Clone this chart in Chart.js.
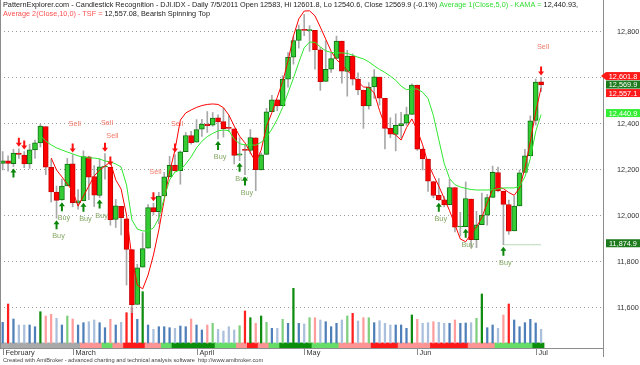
<!DOCTYPE html>
<html>
<head>
<meta charset="utf-8">
<title>DJI.IDX candlestick recognition</title>
<script src="https://cdn.jsdelivr.net/npm/chart.js@4.4.1/dist/chart.umd.min.js"></script>
<style>
  html, body { margin: 0; padding: 0; background: #ffffff; }
  #chart { display: block; }
</style>
</head>
<body>
<canvas id="chart" width="640" height="365"></canvas>
<script>
// DJI.IDX daily bars, 2/9/2011 - 7/5/2011
const dates = [
  '2/9','2/10','2/11','2/14','2/15','2/16','2/17','2/18','2/22','2/23','2/24','2/25','2/28',
  '3/1','3/2','3/3','3/4','3/7','3/8','3/9','3/10','3/11','3/14','3/15','3/16','3/17','3/18',
  '3/21','3/22','3/23','3/24','3/25','3/28','3/29','3/30','3/31',
  '4/1','4/4','4/5','4/6','4/7','4/8','4/11','4/12','4/13','4/14','4/15','4/18','4/19','4/20',
  '4/21','4/25','4/26','4/27','4/28','4/29',
  '5/2','5/3','5/4','5/5','5/6','5/9','5/10','5/11','5/12','5/13','5/16','5/17','5/18','5/19',
  '5/20','5/23','5/24','5/25','5/26','5/27','5/31',
  '6/1','6/2','6/3','6/6','6/7','6/8','6/9','6/10','6/13','6/14','6/15','6/16','6/17','6/20',
  '6/21','6/22','6/23','6/24','6/27','6/28','6/29','6/30',
  '7/1','7/5'
];
const monthNames = ['February', 'March', 'April', 'May', 'Jun', 'Jul'];

const opens = [
  12229, 12240, 12227, 12273, 12265, 12226, 12287, 12318, 12389, 12211,
  12104, 12070, 12131, 12227, 12057, 12066, 12257, 12171, 12089, 12213,
  12211, 11985, 12042, 11988, 11854, 11615, 11777, 11860, 12036, 12019,
  12087, 12170, 12221, 12197, 12280, 12350, 12321, 12377, 12399, 12395,
  12427, 12410, 12382, 12379, 12264, 12290, 12285, 12340, 12200, 12268,
  12453, 12505, 12480, 12595, 12690, 12763, 12810, 12806, 12807, 12722,
  12585, 12638, 12685, 12760, 12628, 12695, 12595, 12547, 12478, 12561,
  12604, 12511, 12381, 12355, 12393, 12403, 12442, 12569, 12290, 12247,
  12150, 12090, 12070, 12049, 12124, 11952, 11953, 12074, 11897, 11962,
  12003, 12081, 12189, 12108, 12050, 11935, 12044, 12189, 12262, 12415,
  12583
];
const highs = [
  12280, 12262, 12290, 12292, 12280, 12312, 12330, 12400, 12389, 12245,
  12130, 12160, 12250, 12267, 12115, 12283, 12260, 12219, 12248, 12271,
  12211, 12072, 12042, 11988, 11854, 11790, 11927, 12050, 12055, 12103,
  12190, 12259, 12267, 12283, 12363, 12368, 12419, 12420, 12454, 12450,
  12440, 12469, 12436, 12379, 12340, 12310, 12376, 12340, 12275, 12468,
  12525, 12505, 12610, 12710, 12780, 12830, 12876, 12827, 12807, 12733,
  12762, 12708, 12782, 12760, 12720, 12705, 12622, 12547, 12580, 12636,
  12604, 12511, 12427, 12444, 12451, 12473, 12575, 12569, 12295, 12247,
  12150, 12163, 12084, 12160, 12124, 12016, 12148, 12074, 12020, 12100,
  12094, 12217, 12213, 12108, 12069, 12086, 12200, 12290, 12435, 12595,
  12601.8
];
const lows = [
  12200, 12195, 12215, 12250, 12210, 12207, 12250, 12300, 12180, 12060,
  11990, 12068, 12131, 12040, 12030, 12066, 12071, 12041, 12080, 12160,
  11960, 11950, 11918, 11700, 11580, 11615, 11777, 11860, 12005, 11966,
  12087, 12170, 12195, 12138, 12280, 12312, 12321, 12346, 12363, 12390,
  12335, 12343, 12367, 12226, 12240, 12180, 12270, 12110, 12200, 12268,
  12453, 12457, 12480, 12560, 12660, 12730, 12784, 12716, 12638, 12546,
  12585, 12624, 12685, 12577, 12521, 12569, 12527, 12381, 12465, 12511,
  12482, 12292, 12340, 12283, 12338, 12394, 12442, 12285, 12200, 12107,
  12079, 12066, 12040, 12049, 11931, 11913, 11953, 11862, 11862, 11962,
  11960, 12081, 12105, 11874.9, 11920, 11935, 12044, 12189, 12262, 12395,
  12540.6
];
const closes = [
  12240, 12229, 12273, 12268, 12226, 12288, 12318, 12391, 12212, 12105,
  12068, 12130, 12226, 12058, 12066, 12258, 12169, 12090, 12214, 12213,
  11984, 12044, 11993, 11855, 11613, 11775, 11858, 12036, 12018, 12086,
  12170, 12220, 12197, 12279, 12350, 12319, 12376, 12400, 12393, 12426,
  12409, 12380, 12381, 12263, 12270, 12285, 12341, 12201, 12266, 12453,
  12505, 12479, 12595, 12690, 12763, 12810, 12807, 12807, 12723, 12584,
  12638, 12684, 12760, 12630, 12695, 12595, 12548, 12479, 12560, 12605,
  12512, 12381, 12356, 12394, 12402, 12441, 12569, 12290, 12248, 12151,
  12089, 12070, 12048, 12124, 11951, 11952, 12076, 11897, 11961, 12004,
  12080, 12190, 12109, 12050, 11934, 12043, 12188, 12261, 12414, 12582,
  12569.9
];
const volumes = [
  207, 390, 240, 180, 180, 180, 163, 313, 270, 287,
  247, 180, 270, 240, 180, 203, 213, 230, 203, 153,
  237, 180, 207, 303, 357, 237, 513, 180, 137, 163,
  163, 153, 147, 170, 163, 240, 180, 130, 180, 197,
  137, 120, 163, 130, 173, 320, 253, 197, 270, 207,
  147, 147, 237, 197, 547, 197, 190, 253, 253, 230,
  213, 163, 197, 230, 270, 297, 220, 253, 253, 203,
  223, 197, 180, 180, 180, 147, 280, 237, 197, 203,
  213, 207, 197, 197, 230, 197, 200, 203, 247, 490,
  153, 180, 147, 280, 390, 230, 163, 203, 237, 200,
  137
];
// Average 2 (Close,10) - time series forecast
const tsf = [
  null, null, null, null, null, null, null, null, null, 12252,
  12200, 12170, 12139, 12109, 12043, 12087, 12130, 12174, 12200, 12217,
  12235, 12157, 12117, 12004, 11817, 11700, 11683, 11743, 11830, 11939,
  12070, 12191, 12287, 12417, 12448, 12461, 12472, 12480, 12485, 12487,
  12485, 12471, 12439, 12391, 12347, 12318, 12276, 12234, 12286, 12389,
  12449, 12516, 12584, 12674, 12782, 12857, 12891, 12892, 12870, 12821,
  12769, 12716, 12680, 12657, 12632, 12609, 12584, 12561, 12559, 12535,
  12458, 12393, 12369, 12352, 12330, 12384, 12422, 12374, 12309, 12229,
  12177, 12130, 12077, 12023, 11962, 11900, 11888, 11922, 11952, 11994,
  12057, 12116, 12125, 12119, 12102, 12090, 12121, 12208, 12324, 12452,
  12557.08
];
// Average 1 (Close,5) - KAMA
const kama = [
  null, null, null, null, null, null, null, 12348, 12326, 12309,
  12296, 12287, 12278, 12270, 12261, 12257, 12252, 12252, 12248, 12239,
  12235, 12226, 12213, 12135, 11983, 11943, 11935, 11935, 11948, 11991,
  12078, 12157, 12191, 12200, 12226, 12257, 12296, 12325, 12345, 12359,
  12370, 12374, 12371, 12334, 12314, 12309, 12309, 12308, 12320, 12343,
  12378, 12420, 12472, 12536, 12599, 12668, 12731, 12756, 12755, 12735,
  12718, 12711, 12709, 12709, 12707, 12699, 12690, 12683, 12670, 12653,
  12637, 12624, 12608, 12590, 12565, 12549, 12552, 12552, 12538, 12511,
  12436, 12332, 12229, 12163, 12136, 12126, 12120, 12115, 12113, 12113,
  12113, 12114, 12118, 12122, 12122, 12122, 12130, 12170, 12249, 12367,
  12440.93
];
// trend ribbon: [state, number of bars]  (2 strong up .. -2 strong down, 0 neutral)
const trendRuns = [
  [0, 15], [-1, 4], [1, 2], [-1, 2], [-2, 4], [-1, 3], [1, 2], [2, 8], [1, 4], [-1, 2],
  [-2, 2], [-1, 2], [1, 2], [2, 6], [1, 5], [-1, 6], [-2, 5], [-1, 6], [-2, 7], [-1, 5],
  [1, 7], [2, 2]
];
const buyBars = [2, 10, 11, 15, 18, 40, 44, 45, 81, 86, 93];
const buyLabelBars = [10, 11, 15, 18, 40, 44, 45, 81, 86, 93];
const sellBars = [3, 4, 13, 19, 20, 28, 32, 100];
const sellLabelBars = [13, 19, 20, 28, 32, 100];
const supportLevel = 11874.9;
const supportFrom = 93;
const priceTicks = [11600, 11800, 12000, 12200, 12400, 12600, 12800];

const FONT = '"Liberation Sans", Arial, sans-serif';
const last = closes.length - 1;
const blankSlots = 11;
const labels = dates.concat(Array(blankSlots).fill(''));
const isUp = closes.map((c, i) => c >= opens[i]);
const trend = trendRuns.flatMap(([s, n]) => Array(n).fill(s));
const trendColor = { '-2': '#ff1a1a', '-1': '#ff9494', '0': '#a9a9a9', '1': '#66dd66', '2': '#0b8f0b' };

const volColors = volumes.map((v, i) => {
  const prev = volumes.slice(Math.max(0, i - 10), i);
  const avg = prev.length ? prev.reduce((a, b) => a + b, 0) / prev.length : v;
  const r = v / avg;
  if (r > 1.25) return isUp[i] ? '#108c10' : '#ff2020';
  if (r > 1.05) return isUp[i] ? '#7fcf7f' : '#ff9c9c';
  return isUp[i] ? '#4f7fb8' : '#aabfdc';
});

const fmt = v => v.toLocaleString('en-US', { minimumFractionDigits: 1, maximumFractionDigits: 1 });

function drawArrow(ctx, cx, cy, up, color) {
  const d = up ? 1 : -1;
  ctx.fillStyle = color;
  ctx.beginPath();
  ctx.moveTo(cx, cy - 5 * d);
  ctx.lineTo(cx + 3, cy - 1 * d);
  ctx.lineTo(cx + 1, cy - 1 * d);
  ctx.lineTo(cx + 1, cy + 4 * d);
  ctx.lineTo(cx - 1, cy + 4 * d);
  ctx.lineTo(cx - 1, cy - 1 * d);
  ctx.lineTo(cx - 3, cy - 1 * d);
  ctx.closePath();
  ctx.fill();
}

function drawSegments(ctx, segs, x, y) {
  segs.forEach(([t, c]) => {
    ctx.fillStyle = c;
    ctx.fillText(t, x, y);
    x += ctx.measureText(t).width;
  });
}

const overlay = {
  id: 'overlay',
  afterDatasetsDraw(chart) {
    const { ctx, scales: { x, y } } = chart;
    ctx.save();
    ctx.font = '7.3px ' + FONT;
    ctx.textAlign = 'center';
    ctx.textBaseline = 'middle';
    buyBars.forEach(i => {
      const px = x.getPixelForValue(i);
      const py = y.getPixelForValue(lows[i]) + 7;
      drawArrow(ctx, px, py, true, '#0a870a');
      if (buyLabelBars.includes(i)) {
        ctx.fillStyle = '#86a865';
        ctx.fillText('Buy', px + 2, py + 11);
      }
    });
    sellBars.forEach(i => {
      const px = x.getPixelForValue(i);
      const py = y.getPixelForValue(highs[i]) - 7;
      drawArrow(ctx, px, py, false, '#ff1010');
      if (sellLabelBars.includes(i)) {
        ctx.fillStyle = '#f27a6a';
        ctx.fillText('Sell', px + 2, py - 24);
      }
    });
    ctx.restore();
  },
  afterDraw(chart) {
    const { ctx, chartArea: ca, scales: { x, y } } = chart;
    ctx.save();
    ctx.font = '7.3px ' + FONT;
    ctx.textBaseline = 'middle';
    ctx.textAlign = 'left';

    // frame
    ctx.strokeStyle = '#8c8c8c';
    ctx.lineWidth = 1;
    ctx.beginPath();
    ctx.moveTo(ca.left + 0.5, ca.top);
    ctx.lineTo(ca.left + 0.5, ca.bottom);
    ctx.moveTo(ca.left, ca.bottom + 0.5);
    ctx.lineTo(ca.right, ca.bottom + 0.5);
    ctx.moveTo(ca.right + 0.5, ca.top);
    ctx.lineTo(ca.right + 0.5, ca.bottom + 9);
    ctx.stroke();

    // month axis
    dates.forEach((d, i) => {
      const m = +d.split('/')[0];
      if (i > 0 && m === +dates[i - 1].split('/')[0]) return;
      const px = Math.round(x.getPixelForValue(i)) + 0.5;
      ctx.strokeStyle = '#8c8c8c';
      ctx.beginPath();
      ctx.moveTo(px, ca.bottom);
      ctx.lineTo(px, ca.bottom + 7);
      ctx.stroke();
      ctx.fillStyle = '#333333';
      ctx.fillText(monthNames[m - 2], px + 2, ca.bottom + 5);
    });

    // title
    const dark = '#222222';
    drawSegments(ctx, [
      ['PatternExplorer.com - Candlestick Recognition - DJI.IDX - Daily 7/5/2011 Open 12583, Hi 12601.8, Lo 12540.6, Close 12569.9 (-0.1%) ', dark],
      ['Average 1(Close,5,0) - KAMA = ', '#33dd33'],
      ['12,440.93,', dark]
    ], 3, 5);
    drawSegments(ctx, [
      ['Average 2(Close,10,0) - TSF = ', '#ff5050'],
      ['12,557.08, Bearish Spinning Top', dark]
    ], 3, 14);

    // value boxes on the price axis
    const boxes = [
      { v: highs[last], bg: '#ff1a1a', pointer: true },
      { v: closes[last], bg: '#1d7a1d' },
      { v: tsf[last], bg: '#ff1a1a' },
      { v: kama[last], bg: '#33ee33' },
      { v: supportLevel, bg: '#1d7a1d' }
    ];
    let prev = -Infinity;
    ctx.textAlign = 'center';
    boxes.forEach(b => {
      let cy = y.getPixelForValue(b.v) - 1.5;
      if (cy < prev + 8.5) cy = prev + 8.5;
      prev = cy;
      const x0 = ca.right + 3, w = 640 - x0, h = 8;
      ctx.fillStyle = b.bg;
      ctx.fillRect(x0, cy - h / 2, w, h);
      if (b.pointer) {
        ctx.beginPath();
        ctx.moveTo(ca.right - 2, cy);
        ctx.lineTo(x0, cy - h / 2);
        ctx.lineTo(x0, cy + h / 2);
        ctx.closePath();
        ctx.fill();
      }
      ctx.fillStyle = '#ffffff';
      ctx.fillText(fmt(b.v), x0 + w / 2, cy + 0.5);
    });

    // footer
    ctx.textAlign = 'left';
    ctx.font = '5.7px ' + FONT;
    ctx.fillStyle = '#444444';
    ctx.fillText('Created with AmiBroker - advanced charting and technical analysis software  http://www.amibroker.com', 3, 360.5);
    ctx.restore();
  }
};

Chart.defaults.font.family = FONT;

new Chart(document.getElementById('chart'), {
  type: 'bar',
  data: {
    labels: labels,
    datasets: [
      {
        label: 'Trend',
        data: trend.map(() => [0, 1]),
        yAxisID: 'yStrip',
        backgroundColor: trend.map(s => trendColor[s]),
        barThickness: 6,
        grouped: false,
        order: 10
      },
      {
        label: 'Volume',
        data: volumes,
        yAxisID: 'yVol',
        backgroundColor: volColors,
        barThickness: 1.6,
        grouped: false,
        order: 9
      },
      {
        label: 'Wick',
        data: lows.map((l, i) => [l, highs[i]]),
        yAxisID: 'y',
        backgroundColor: '#a8a8a8',
        barThickness: 1,
        grouped: false,
        order: 4
      },
      {
        label: 'Body',
        data: opens.map((o, i) => [o, closes[i]]),
        yAxisID: 'y',
        backgroundColor: isUp.map(u => u ? '#33cc33' : '#ff0000'),
        borderColor: isUp.map(u => u ? '#127012' : '#c80000'),
        borderWidth: 1,
        borderSkipped: false,
        barThickness: 5,
        minBarLength: 1,
        grouped: false,
        order: 3
      },
      {
        type: 'line',
        label: 'Support',
        data: dates.map((d, i) => i >= supportFrom ? supportLevel : null),
        yAxisID: 'y',
        borderColor: '#b9d9b9',
        borderWidth: 1,
        pointRadius: 0,
        order: 5
      },
      {
        type: 'line',
        label: 'TSF',
        data: tsf,
        yAxisID: 'y',
        borderColor: '#ff0000',
        borderWidth: 1,
        pointRadius: 0,
        tension: 0,
        order: 2
      },
      {
        type: 'line',
        label: 'KAMA',
        data: kama,
        yAxisID: 'y',
        borderColor: '#2fe82f',
        borderWidth: 1,
        pointRadius: 0,
        tension: 0,
        order: 1
      }
    ]
  },
  options: {
    responsive: false,
    animation: false,
    devicePixelRatio: 1,
    layout: { padding: { left: 0, top: 0, right: 0, bottom: 17 } },
    plugins: { legend: { display: false }, tooltip: { enabled: false } },
    scales: {
      x: { type: 'category', display: false, offset: true },
      y: {
        position: 'right',
        min: 11426,
        max: 12939,
        afterFit: s => { s.width = 37; s.paddingTop = 0; s.paddingBottom = 0; },
        afterBuildTicks: s => { s.ticks = priceTicks.map(v => ({ value: v })); },
        ticks: {
          padding: 0,
          color: '#333333',
          font: { size: 7.3 },
          callback: v => v.toLocaleString('en-US')
        },
        grid: { color: '#9a9a9a', drawTicks: true, tickLength: 14, tickColor: 'rgba(0,0,0,0)', lineWidth: 1 },
        border: { display: false, dash: [1, 3] }
      },
      yVol: { display: false, min: -50, max: 3430 },
      yStrip: { display: false, min: 0, max: 69.6 }
    }
  },
  plugins: [overlay]
});
</script>
</body>
</html>
